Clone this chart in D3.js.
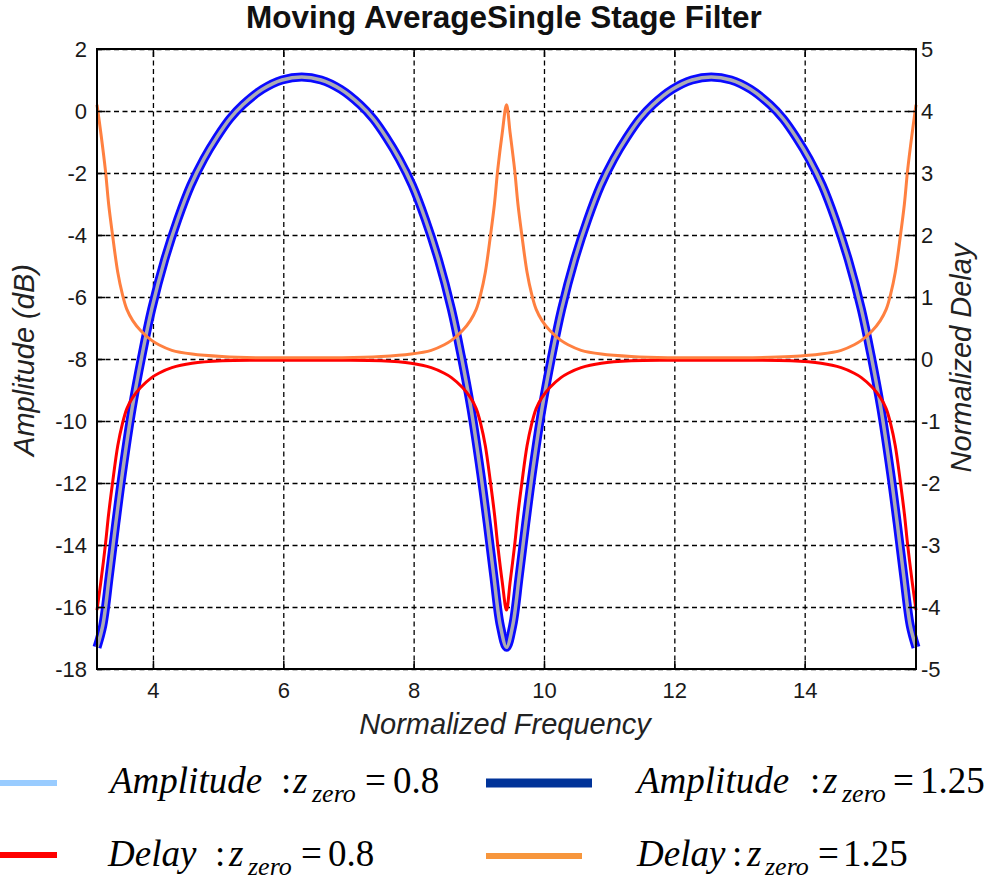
<!DOCTYPE html>
<html>
<head>
<meta charset="utf-8">
<script src="https://cdn.jsdelivr.net/npm/d3@7"></script>
<style>
body { margin: 0; background: #fff; }
svg { display: block; font-family: "Liberation Sans", Arial, sans-serif; }
.grid line { stroke: #000; stroke-width: 1.3; stroke-dasharray: 5,3.5; }
.grid path { display: none; }
.axis path { display: none; }
.axis line { stroke: #000; stroke-width: 1.5; }
.axis text { font-size: 22px; fill: #1a1a1a; }
.lgd { font-family: "Liberation Serif", "Times New Roman", serif; fill: #000; }
</style>
</head>
<body>
<svg id="chart" width="987" height="881"></svg>
<script>
// ---- data ----
var xTicks = [4, 6, 8, 10, 12, 14];
var ampTicks = [-18, -16, -14, -12, -10, -8, -6, -4, -2, 0, 2];
var delayTicks = [-5, -4, -3, -2, -1, 0, 1, 2, 3, 4, 5];

// amplitude (dB) vs normalized frequency
var ampFreq = [3.1416,3.23,3.33,3.43,3.53,3.68,3.83,3.98,4.18,4.38,4.58,4.78,4.98,5.18,5.38,5.68,5.98,6.2832,
  6.58,6.88,7.18,7.38,7.58,7.78,7.98,8.18,8.38,8.58,8.73,8.88,9.03,9.13,9.23,9.33,9.4248,
  9.52,9.62,9.72,9.82,9.97,10.12,10.27,10.47,10.67,10.87,11.07,11.27,11.47,11.67,11.97,12.27,12.566,
  12.87,13.17,13.47,13.67,13.87,14.07,14.27,14.47,14.67,14.87,15.02,15.17,15.32,15.42,15.52,15.62,15.708];
var amp125 = [-17.3,-16.6,-15.0,-13.3,-11.7,-9.6,-7.9,-6.4,-4.8,-3.5,-2.4,-1.55,-0.85,-0.25,0.2,0.7,1.0,1.1,
  1.0,0.7,0.2,-0.25,-0.85,-1.55,-2.4,-3.5,-4.8,-6.4,-7.9,-9.6,-11.7,-13.3,-15.0,-16.6,-17.3,
  -16.6,-15.0,-13.3,-11.7,-9.6,-7.9,-6.4,-4.8,-3.5,-2.4,-1.55,-0.85,-0.25,0.2,0.7,1.0,1.1,
  1.0,0.7,0.2,-0.25,-0.85,-1.55,-2.4,-3.5,-4.8,-6.4,-7.9,-9.6,-11.7,-13.3,-15.0,-16.6,-17.3];
// the two amplitude curves lie on top of each other
var amp08 = amp125.slice();

// normalized delay vs normalized frequency
var delayFreq = [3.1416,3.20,3.27,3.32,3.38,3.46,3.53,3.60,3.69,3.81,3.98,4.09,4.29,4.60,5.06,
  5.60,6.28,6.90,
  7.50,7.96,8.27,8.47,8.58,8.75,8.87,8.96,9.03,9.10,9.18,9.24,9.29,9.36,9.4248,
  9.48,9.55,9.60,9.66,9.74,9.81,9.88,9.97,10.09,10.26,10.37,10.57,10.88,11.34,
  11.90,12.57,13.20,
  13.79,14.25,14.56,14.76,14.87,15.04,15.16,15.25,15.32,15.39,15.47,15.53,15.58,15.65,15.708];
var delay08 = [-4.05,-3.6,-3.0,-2.5,-2.0,-1.4,-1.05,-0.8,-0.62,-0.46,-0.3,-0.23,-0.14,-0.07,-0.03,
  -0.02,-0.02,-0.02,
  -0.03,-0.07,-0.14,-0.23,-0.3,-0.46,-0.62,-0.8,-1.05,-1.4,-2.0,-2.5,-3.0,-3.6,-4.05,
  -3.6,-3.0,-2.5,-2.0,-1.4,-1.05,-0.8,-0.62,-0.46,-0.3,-0.23,-0.14,-0.07,-0.03,
  -0.02,-0.02,-0.02,
  -0.03,-0.07,-0.14,-0.23,-0.3,-0.46,-0.62,-0.8,-1.05,-1.4,-2.0,-2.5,-3.0,-3.6,-4.05];
var delay125 = [4.1,3.65,3.05,2.5,2.0,1.4,1.05,0.8,0.62,0.46,0.3,0.23,0.14,0.08,0.04,
  0.02,0.02,0.02,
  0.04,0.08,0.14,0.23,0.3,0.46,0.62,0.8,1.05,1.4,2.0,2.5,3.05,3.65,4.1,
  3.65,3.05,2.5,2.0,1.4,1.05,0.8,0.62,0.46,0.3,0.23,0.14,0.08,0.04,
  0.02,0.02,0.02,
  0.04,0.08,0.14,0.23,0.3,0.46,0.62,0.8,1.05,1.4,2.0,2.5,3.05,3.65,4.1];

var legendNames = ["Amplitude", "Amplitude", "Delay", "Delay"];
var legendZeros = ["0.8", "1.25", "0.8", "1.25"];

// ---- layout ----
var plotLeft = 97, plotRight = 916, plotTop = 49, plotBottom = 669;
var plotW = plotRight - plotLeft, plotH = plotBottom - plotTop;

var svg = d3.select("#chart");

var x = d3.scaleLinear().domain([Math.PI, 5 * Math.PI]).range([plotLeft, plotRight]);
var yAmp = d3.scaleLinear().domain([-18, 2]).range([plotBottom, plotTop]);
var yDelay = d3.scaleLinear().domain([-5, 5]).range([plotBottom, plotTop]);

// plain hyphen for negatives, like the original
var fmt = function (d) { return String(d); };

// grid
svg.append("g").attr("class", "grid")
  .attr("transform", "translate(0," + plotBottom + ")")
  .call(d3.axisBottom(x).tickValues(xTicks).tickSize(-plotH).tickFormat(""));
svg.append("g").attr("class", "grid")
  .attr("transform", "translate(" + plotLeft + ",0)")
  .call(d3.axisLeft(yAmp).tickValues(ampTicks).tickSize(-plotW).tickFormat(""));

// curves
function lineOf(xs, ys, yScale) {
  var pts = xs.map(function (d, i) { return [d, ys[i]]; });
  return d3.line()
    .x(function (d) { return x(d[0]); })
    .y(function (d) { return yScale(d[1]); })
    .curve(d3.curveCatmullRom.alpha(0.5))(pts);
}

svg.append("path").attr("d", lineOf(ampFreq, amp125, yAmp))
  .attr("fill", "none").attr("stroke", "#0a0aff").attr("stroke-width", 9)
  .attr("stroke-linejoin", "round");
svg.append("path").attr("d", lineOf(ampFreq, amp08, yAmp))
  .attr("fill", "none").attr("stroke", "#acacb4").attr("stroke-width", 3.5)
  .attr("stroke-linejoin", "round");
svg.append("path").attr("d", lineOf(delayFreq, delay08, yDelay))
  .attr("fill", "none").attr("stroke", "#ff0000").attr("stroke-width", 3);
svg.append("path").attr("d", lineOf(delayFreq, delay125, yDelay))
  .attr("fill", "none").attr("stroke", "#ff8040").attr("stroke-width", 3);

// frame
svg.append("rect").attr("x", plotLeft).attr("y", plotTop).attr("width", plotW).attr("height", plotH)
  .attr("fill", "none").attr("stroke", "#000").attr("stroke-width", 2);

// axes (ticks inward)
svg.append("g").attr("class", "axis")
  .attr("transform", "translate(0," + plotBottom + ")")
  .call(d3.axisBottom(x).tickValues(xTicks).tickFormat(fmt).tickSizeInner(-8).tickSizeOuter(0).tickPadding(13));
svg.append("g").attr("class", "axis")
  .attr("transform", "translate(0," + plotTop + ")")
  .call(d3.axisTop(x).tickValues(xTicks).tickSizeInner(-8).tickSizeOuter(0).tickFormat(""));
svg.append("g").attr("class", "axis")
  .attr("transform", "translate(" + plotLeft + ",0)")
  .call(d3.axisLeft(yAmp).tickValues(ampTicks).tickFormat(fmt).tickSizeInner(-8).tickSizeOuter(0).tickPadding(10));
svg.append("g").attr("class", "axis")
  .attr("transform", "translate(" + plotRight + ",0)")
  .call(d3.axisRight(yDelay).tickValues(delayTicks).tickFormat(fmt).tickSizeInner(-8).tickSizeOuter(0).tickPadding(5));

// titles
svg.append("text").attr("x", 504).attr("y", 28).attr("text-anchor", "middle")
  .attr("font-size", 31.5).attr("font-weight", "bold").attr("fill", "#111")
  .text("Moving AverageSingle Stage Filter");
svg.append("text").attr("x", 505).attr("y", 734).attr("text-anchor", "middle")
  .attr("font-size", 29).attr("font-style", "italic").attr("fill", "#222")
  .text("Normalized Frequency");
svg.append("text").attr("transform", "translate(34,360) rotate(-90)").attr("text-anchor", "middle")
  .attr("font-size", 29).attr("font-style", "italic").attr("fill", "#222")
  .text("Amplitude (dB)");
svg.append("text").attr("transform", "translate(971,358) rotate(-90)").attr("text-anchor", "middle")
  .attr("font-size", 29).attr("font-style", "italic").attr("fill", "#222")
  .text("Normalized Delay");

// legend
var legendItems = [
  { x1: 0, x2: 57, y: 783, w: 6, color: "#99ccff", tx: 110, colon: 281, z: 293, sub: 312, eq: 365, num: 393, base: 793 },
  { x1: 486, x2: 592, y: 783, w: 9, color: "#003399", tx: 637, colon: 810, z: 823, sub: 842, eq: 893, num: 920, base: 793 },
  { x1: 0, x2: 57, y: 855, w: 6, color: "#ff0000", tx: 108, colon: 215, z: 229, sub: 248, eq: 301, num: 328, base: 866 },
  { x1: 486, x2: 582, y: 856, w: 6, color: "#f7963c", tx: 637, colon: 732, z: 747, sub: 765, eq: 818, num: 843, base: 866 }
];
legendItems.forEach(function (it, i) {
  svg.append("line").attr("x1", it.x1).attr("x2", it.x2).attr("y1", it.y).attr("y2", it.y)
    .attr("stroke", it.color).attr("stroke-width", it.w);
  var t = svg.append("text").attr("class", "lgd").attr("y", it.base).attr("font-size", 37);
  t.append("tspan").attr("x", it.tx).attr("font-style", "italic").text(legendNames[i]);
  t.append("tspan").attr("x", it.colon).text(":");
  t.append("tspan").attr("x", it.z).attr("font-style", "italic").text("z");
  t.append("tspan").attr("x", it.sub).attr("y", it.base + 9).attr("font-size", 26)
    .attr("font-style", "italic").text("zero");
  t.append("tspan").attr("x", it.eq).attr("y", it.base).text("=");
  t.append("tspan").attr("x", it.num).text(legendZeros[i]);
});
</script>
</body>
</html>
